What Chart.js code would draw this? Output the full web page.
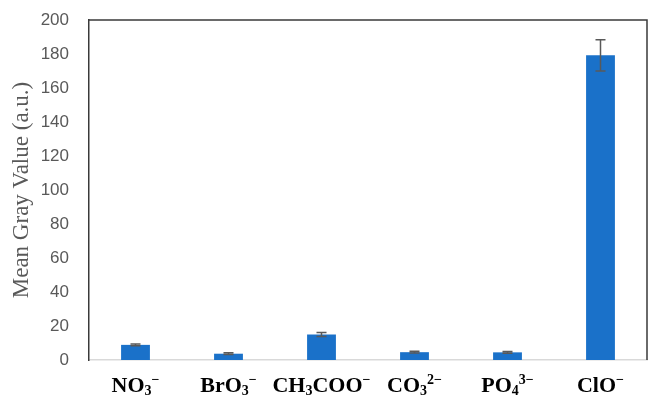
<!DOCTYPE html>
<html>
<head>
<meta charset="utf-8">
<script src="https://cdn.jsdelivr.net/npm/chart.js@4"></script>
<style>
  html, body { margin: 0; padding: 0; background: #ffffff; }
  #wrap { width: 648px; height: 396px; position: relative; }
</style>
</head>
<body>
<div id="wrap"><canvas id="chart" width="648" height="396"></canvas></div>
<script>
// Anions tested and their mean gray values with standard deviations
const categories = ['NO₃⁻', 'BrO₃⁻', 'CH₃COO⁻', 'CO₃²⁻', 'PO₄³⁻', 'ClO⁻'];
const meanGray = [8.9, 3.7, 15.0, 4.6, 4.5, 179.2];
const stdDev = [0.5, 0.5, 1.2, 0.5, 0.5, 9.2];
const yTicks = [0, 20, 40, 60, 80, 100, 120, 140, 160, 180, 200];

const BAR_COLOR = '#1a71c9';
const ERR_COLOR = '#595959';

// Error bars with flat caps
const errorBars = {
  id: 'errorBars',
  afterDatasetsDraw(chart) {
    const meta = chart.getDatasetMeta(0);
    const y = chart.scales.y;
    const ctx = chart.ctx;
    ctx.save();
    ctx.strokeStyle = ERR_COLOR;
    ctx.lineWidth = 1.5;
    meta.data.forEach((bar, i) => {
      const x = bar.x;
      const top = y.getPixelForValue(meanGray[i] + stdDev[i]);
      const bot = y.getPixelForValue(meanGray[i] - stdDev[i]);
      ctx.beginPath();
      ctx.moveTo(x, top); ctx.lineTo(x, bot);
      ctx.moveTo(x - 5, top); ctx.lineTo(x + 5, top);
      ctx.moveTo(x - 5, bot); ctx.lineTo(x + 5, bot);
      ctx.stroke();
    });
    ctx.restore();
  }
};

// Dark frame on the top and right edges of the plot area
const frame = {
  id: 'frame',
  beforeDatasetsDraw(chart) {
    const a = chart.chartArea;
    const ctx = chart.ctx;
    ctx.save();
    ctx.strokeStyle = '#3a3a3a';
    ctx.lineWidth = 1.5;
    ctx.beginPath();
    ctx.moveTo(a.left, a.top);
    ctx.lineTo(a.right, a.top);
    ctx.lineTo(a.right, a.bottom);
    ctx.stroke();
    ctx.restore();
  }
};

// Category labels with chemical subscripts and superscripts
const SUB = '₀₁₂₃₄₅₆₇₈₉';
const SUP = { '⁰':'0','¹':'1','²':'2','³':'3','⁴':'4','⁵':'5','⁶':'6','⁷':'7','⁸':'8','⁹':'9','⁻':'−' };
function segments(label) {
  const out = [];
  for (const ch of label) {
    let kind = 'n', t = ch;
    const si = SUB.indexOf(ch);
    if (si >= 0) { kind = 'sub'; t = String(si); }
    else if (SUP[ch]) { kind = 'sup'; t = SUP[ch]; }
    const last = out[out.length - 1];
    if (last && last.kind === kind) last.text += t; else out.push({ kind, text: t });
  }
  return out;
}
const formulaLabels = {
  id: 'formulaLabels',
  afterDraw(chart) {
    const xs = chart.scales.x;
    const ctx = chart.ctx;
    const size = 22, small = 14;
    const baseY = 392;
    ctx.save();
    ctx.fillStyle = '#000000';
    ctx.textBaseline = 'alphabetic';
    ctx.textAlign = 'left';
    categories.forEach((lab, i) => {
      const segs = segments(lab);
      let w = 0;
      segs.forEach(s => {
        ctx.font = 'bold ' + (s.kind === 'n' ? size : small) + 'px "Liberation Serif", "Times New Roman", serif';
        s.w = ctx.measureText(s.text).width;
        w += s.w;
      });
      let x = xs.getPixelForValue(i) - w / 2;
      segs.forEach(s => {
        ctx.font = 'bold ' + (s.kind === 'n' ? size : small) + 'px "Liberation Serif", "Times New Roman", serif';
        let y = baseY;
        if (s.kind === 'sub') y = baseY + 3;
        if (s.kind === 'sup') y = baseY - 8;
        ctx.fillText(s.text, x, y);
        x += s.w;
      });
    });
    ctx.restore();
  }
};

new Chart(document.getElementById('chart'), {
  type: 'bar',
  data: {
    labels: categories,
    datasets: [{
      data: meanGray,
      backgroundColor: BAR_COLOR,
      borderWidth: 0,
      barPercentage: 0.31,
      categoryPercentage: 1.0
    }]
  },
  options: {
    responsive: false,
    animation: false,
    devicePixelRatio: 1,
    layout: { padding: { top: 20, right: 1, left: 0, bottom: 0 } },
    plugins: {
      legend: { display: false },
      tooltip: { enabled: false }
    },
    scales: {
      x: {
        grid: { display: false, drawTicks: false },
        border: { display: true, color: '#d9d9d9', width: 1.5 },
        ticks: { display: false },
        afterFit(scale) { scale.height = 36; scale.paddingLeft = 0; scale.paddingRight = 0; }
      },
      y: {
        min: 0,
        max: 200,
        afterBuildTicks(scale) { scale.ticks = yTicks.map(v => ({ value: v })); },
        grid: { display: false, drawTicks: false },
        border: { display: true, color: '#3a3a3a', width: 1.5 },
        ticks: {
          padding: 20,
          color: '#595959',
          font: { family: '"Liberation Sans", Arial, sans-serif', size: 17 }
        },
        title: {
          display: true,
          text: 'Mean Gray Value (a.u.)',
          color: '#595959',
          padding: { top: 8, bottom: 0 },
          font: { family: '"Liberation Serif", "Times New Roman", serif', size: 23 }
        },
        afterFit(scale) { scale.width = 89; scale.paddingTop = 0; scale.paddingBottom = 0; }
      }
    }
  },
  plugins: [frame, errorBars, formulaLabels]
});
</script>
</body>
</html>
